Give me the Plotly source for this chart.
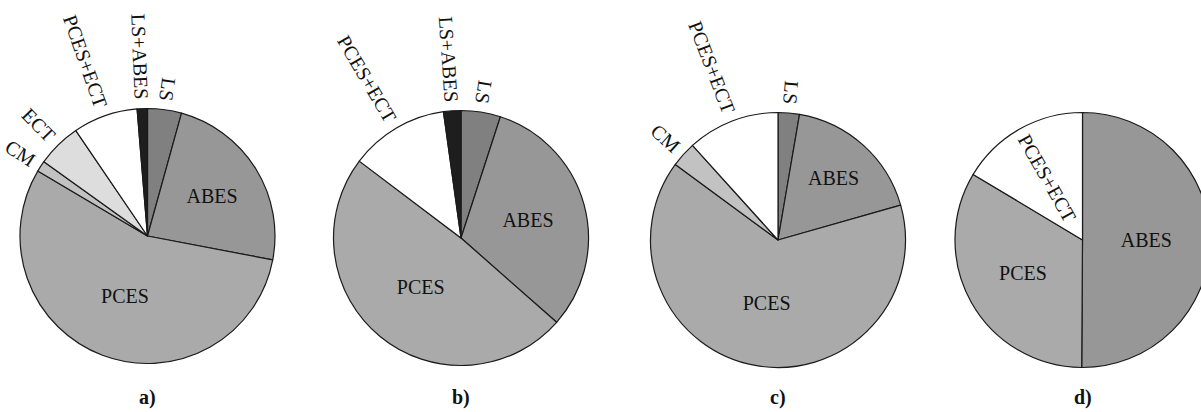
import math
import plotly.graph_objects as go

# ---- data (shares in percent, clockwise from 12 o'clock) ----
labels_a = ["LS", "ABES", "PCES", "CM", "ECT", "PCES+ECT", "LS+ABES"]
values_a = [4.3, 23.7, 55.5, 1.4, 5.6, 8.2, 1.3]

labels_b = ["LS", "ABES", "PCES", "PCES+ECT", "LS+ABES"]
values_b = [5.0, 31.5, 48.8, 12.5, 2.2]

labels_c = ["LS", "ABES", "PCES", "CM", "PCES+ECT"]
values_c = [2.7, 17.9, 64.5, 3.2, 11.7]

labels_d = ["ABES", "PCES", "PCES+ECT"]
values_d = [50.1, 33.5, 16.4]

panel_titles = ["a)", "b)", "c)", "d)"]

# ---- styles ----
colors = {
    "LS": "#808080",
    "ABES": "#979797",
    "PCES": "#aaaaaa",
    "CM": "#c2c2c2",
    "ECT": "#dddddd",
    "PCES+ECT": "#ffffff",
    "LS+ABES": "#1e1e1e",
}
horizontal_inside = {"ABES", "PCES"}
FONT = "Liberation Serif, Times New Roman, serif"
FS = 20
W, H = 1215, 412
R = 127.5
centers = [(147.5, 236.0), (461.0, 238.0), (778.0, 240.0), (1082.5, 240.0)]
radial_inside = [set(), set(), set(), {"PCES+ECT"}]

# approximate Times glyph advance widths (em) to centre radial labels
glyph_w = {"P": .556, "C": .667, "E": .611, "S": .556, "+": .564, "T": .611,
           "L": .611, "A": .722, "B": .667, "M": .889}


def text_len(s):
    return sum(glyph_w.get(ch, .6) for ch in s) * FS


panels = [(labels_a, values_a), (labels_b, values_b), (labels_c, values_c), (labels_d, values_d)]

fig = go.Figure()
annotations = []
for i, ((labels, values), (cx, cy)) in enumerate(zip(panels, centers)):
    dom_x = [(cx - R) / W, (cx + R) / W]
    dom_y = [1 - (cy + R) / H, 1 - (cy - R) / H]
    fig.add_trace(go.Pie(
        labels=labels,
        values=values,
        sort=False,
        direction="clockwise",
        rotation=0,
        domain=dict(x=dom_x, y=dom_y),
        marker=dict(colors=[colors[l] for l in labels], line=dict(color="#1a1a1a", width=1.2)),
        textinfo="label",
        textposition=["inside" if l in horizontal_inside else "none" for l in labels],
        insidetextorientation="horizontal",
        textfont=dict(family=FONT, size=FS, color="#111111"),
        hoverinfo="label+percent",
        showlegend=False,
    ))
    total = float(sum(values))
    acc = 0.0
    for lab, v in zip(labels, values):
        mid = (acc + v / 2) / total * 2 * math.pi
        acc += v
        if lab in horizontal_inside:
            continue
        if lab in radial_inside[i]:
            r = 0.56 * R
        else:
            r = R + 9 + text_len(lab) / 2
        px = cx + r * math.sin(mid)
        py = cy - r * math.cos(mid)
        ang = math.degrees(math.atan2(math.cos(mid), -math.sin(mid)))
        annotations.append(dict(
            x=px / W, y=1 - py / H, xref="paper", yref="paper",
            text=lab, showarrow=False, textangle=ang,
            xanchor="center", yanchor="middle",
            font=dict(family=FONT, size=FS, color="#111111"),
        ))
    annotations.append(dict(
        x=cx / W, y=1 - 397 / H, xref="paper", yref="paper",
        text="<b>%s</b>" % panel_titles[i], showarrow=False,
        xanchor="center", yanchor="middle",
        font=dict(family=FONT, size=20, color="#111111"),
    ))

fig.update_layout(
    width=W, height=H,
    margin=dict(l=0, r=0, t=0, b=0),
    paper_bgcolor="white", plot_bgcolor="white",
    annotations=annotations,
)

fig.write_html(
    "out.html",
    config={"displayModeBar": False},
    post_script="document.body.style.margin='0';document.body.style.overflow='hidden';",
)
